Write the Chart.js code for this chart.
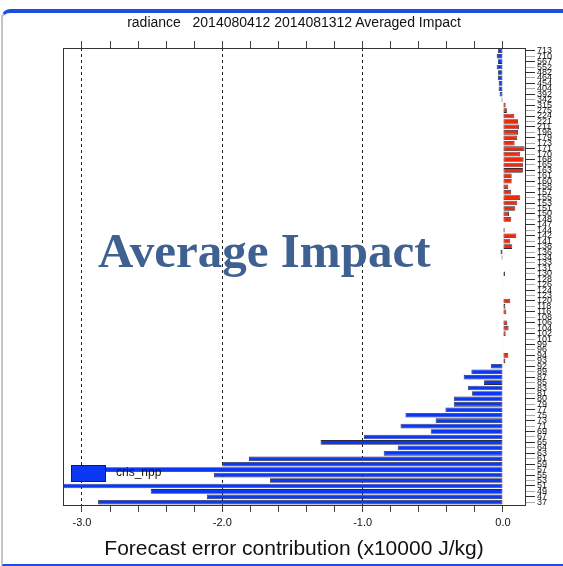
<!DOCTYPE html>
<html>
<head>
<meta charset="utf-8">
<script src="https://cdn.jsdelivr.net/npm/chart.js@4.4.1/dist/chart.umd.min.js"></script>
<style>
  body { margin: 0; background: #fff; }
  #wrap { position: relative; width: 563px; height: 566px; overflow: hidden; }
  #frame { position: absolute; left: 1px; top: 9px; width: 640px; height: 551px;
           border-top: 4px solid #1c4de6; border-bottom: 4px solid #1c4de6;
           border-left: 2px solid #c4c4c4; border-top-left-radius: 9px; pointer-events: none; }
  #title { position: absolute; left: 63px; width: 462px; top: 14px; text-align: center;
           font: 14px "Liberation Sans", Arial, sans-serif; color: #111; white-space: pre; }
  #stamp { position: absolute; left: 98px; top: 222px; line-height: 49px;
           font: bold 49px "Liberation Serif", "DejaVu Serif", serif; color: #3f6192; }
</style>
</head>
<body>
<div id="wrap">
  <canvas id="chart" width="563" height="566"></canvas>
  <div id="title">radiance   2014080412 2014081312 Averaged Impact</div>
  <div id="stamp">Average Impact</div>
  <div id="frame"></div>
</div>
<script>
// channel numbers, top to bottom as in the plot
var channels = ['713', '710', '567', '552', '482', '464', '454', '404', '392', '342',
    '315', '275', '224', '221', '211', '196', '179', '173', '171', '170',
    '168', '165', '163', '161', '160', '158', '157', '155', '153', '151',
    '150', '148', '147', '144', '142', '141', '138', '136', '134', '133',
    '131', '130', '128', '126', '124', '123', '120', '118', '116', '108',
    '106', '104', '102', '101', '99', '96', '94', '93', '92', '89',
    '87', '85', '83', '81', '80', '79', '77', '75', '73', '71',
    '69', '67', '65', '64', '63', '61', '59', '57', '55', '53',
    '51', '49', '47', '37'];

// averaged impact (x10000 J/kg)
var impact = [-0.036, -0.045, -0.036, -0.045, -0.036, -0.036, -0.031, -0.031, -0.024, -0.010,
    0.019, 0.028, 0.081, 0.107, 0.114, 0.107, 0.102, 0.083, 0.154, 0.123,
    0.147, 0.142, 0.142, 0.062, 0.062, 0.038, 0.059, 0.123, 0.102, 0.088,
    0.043, 0.059, 0.0, 0.012, 0.095, 0.052, 0.066, -0.017, -0.010, -0.003,
    -0.003, 0.014, -0.002, -0.002, -0.002, -0.002, 0.052, 0.017, 0.024, -0.002,
    0.031, 0.040, 0.019, -0.002, -0.002, -0.002, 0.038, 0.017, -0.085, -0.225,
    -0.28, -0.135, -0.25, -0.22, -0.35, -0.35, -0.41, -0.695, -0.48, -0.73,
    -0.515, -0.99, -1.30, -0.75, -0.85, -1.81, -2.00, -3.07, -2.06, -1.66,
    -3.25, -2.51, -2.11, -2.885];

var seriesName = 'cris_npp';
var xMin = -3.135, xMax = 0.157;

function isWhole(v) { return Math.abs(v - Math.round(v)) < 1e-6; }

// frame round the plot + legend box
var framePlugin = {
    id: 'frame',
    afterDraw: function (chart) {
        var a = chart.chartArea, ctx = chart.ctx;
        ctx.save();
        ctx.setLineDash([]);
        ctx.strokeStyle = '#333';
        ctx.lineWidth = 1;
        ctx.strokeRect(a.left + 0.5, a.top + 0.5, a.right - a.left, a.bottom - a.top);
        // legend
        var lx = a.left + 8, ly = a.bottom - 40;
        ctx.fillStyle = '#0a38f5';
        ctx.fillRect(lx, ly, 34, 16);
        ctx.strokeStyle = '#1a1a40';
        ctx.strokeRect(lx + 0.5, ly + 0.5, 34, 16);
        ctx.fillStyle = '#111';
        ctx.font = '12px "Liberation Sans", Arial, sans-serif';
        ctx.textBaseline = 'middle';
        ctx.fillText(seriesName, lx + 45, ly + 8);
        ctx.restore();
    }
};

var ctx = document.getElementById('chart').getContext('2d');
var chart = new Chart(ctx, {
    type: 'bar',
    data: {
        labels: channels,
        datasets: [{
            label: seriesName,
            data: impact,
            backgroundColor: function (c) { return c.raw < 0 ? '#0a38f5' : '#ec2a0c'; },
            borderColor: '#2a2a3a',
            borderWidth: 0.8,
            borderSkipped: false,
            barPercentage: 0.85,
            categoryPercentage: 1.0
        }]
    },
    options: {
        indexAxis: 'y',
        responsive: false,
        devicePixelRatio: 1,
        animation: false,
        layout: { padding: { left: 63, top: 40, right: 0, bottom: 0 } },
        plugins: {
            legend: { display: false },
            tooltip: { enabled: false },
            title: { display: false }
        },
        scales: {
            x: {
                type: 'linear',
                position: 'bottom',
                min: xMin,
                max: xMax,
                afterFit: function (s) { s.height = 61; },
                ticks: {
                    stepSize: 0.2,
                    includeBounds: false,
                    autoSkip: false,
                    maxRotation: 0,
                    padding: 4,
                    color: '#111',
                    font: { size: 11, family: '"Liberation Sans", Arial, sans-serif' },
                    callback: function (v) { return isWhole(v) ? Math.round(v).toFixed(1) : ''; }
                },
                grid: {
                    color: function (c) {
                        var v = c.tick ? c.tick.value : 0;
                        return (isWhole(v) && Math.round(v) !== 0) ? '#222' : 'rgba(0,0,0,0)';
                    },
                    tickColor: '#444',
                    tickLength: 7,
                    lineWidth: 1
                },
                border: { display: false, dash: [3, 3] },
                title: {
                    display: true,
                    text: 'Forecast error contribution (x10000 J/kg)',
                    color: '#111',
                    font: { size: 21, family: '"Liberation Sans", Arial, sans-serif' },
                    padding: { top: 0, bottom: 4 }
                }
            },
            x2: {
                type: 'linear',
                position: 'top',
                min: xMin,
                max: xMax,
                afterFit: function (s) { s.height = 8; },
                ticks: { display: false, stepSize: 0.2, includeBounds: false },
                grid: { drawOnChartArea: false, tickColor: '#444', tickLength: 7 },
                border: { display: false }
            },
            y: {
                position: 'right',
                afterFit: function (s) { s.width = 38; },
                ticks: {
                    autoSkip: false,
                    padding: 2,
                    color: '#111',
                    font: { size: 9, family: '"Liberation Sans", Arial, sans-serif' }
                },
                grid: {
                    offset: false,
                    drawOnChartArea: false,
                    tickLength: 10,
                    tickColor: function (c) { return c.index % 2 === 0 ? '#333' : '#aaa'; }
                },
                border: { display: false }
            }
        }
    },
    plugins: [framePlugin]
});
</script>
</body>
</html>
